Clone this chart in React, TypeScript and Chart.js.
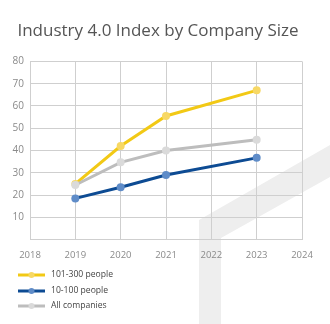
import React, { useEffect, useRef } from "react";
import { Chart, registerables } from "chart.js";

Chart.register(...registerables);

const years = [2019, 2020, 2021, 2023];
const seriesNames = ["101-300 people", "10-100 people", "All companies"];
const mid = [25, 42, 55.5, 67];
const small = [18.5, 23.5, 29, 36.7];
const all = [24.5, 34.7, 40, 44.8];
const yTicks = [10, 20, 30, 40, 50, 60, 70, 80];
const xTicks = [2018, 2019, 2020, 2021, 2022, 2023, 2024];

const lineColors = ["#f2c915", "#0d4b93", "#bdbdbd"];
const pointColors = ["#f7d865", "#5f8cc8", "#dadada"];
const FONT = "'Open Sans', sans-serif";

const watermark = {
  id: "watermark",
  beforeDraw(chart: any) {
    const ctx = chart.ctx;
    ctx.save();
    ctx.fillStyle = "#eeeeee";
    ctx.beginPath();
    ctx.moveTo(199, 324);
    ctx.lineTo(199, 220);
    ctx.lineTo(330, 145);
    ctx.lineTo(330, 177);
    ctx.lineTo(221, 238);
    ctx.lineTo(221, 324);
    ctx.closePath();
    ctx.fill();
    ctx.restore();
  },
};

const bottomLegend = {
  id: "bottomLegend",
  afterDraw(chart: any) {
    const ctx = chart.ctx;
    ctx.save();
    const ys = [275, 291, 306];
    chart.data.datasets.forEach((ds: any, i: number) => {
      const y = ys[i];
      ctx.strokeStyle = ds.borderColor;
      ctx.lineWidth = 3;
      ctx.beginPath();
      ctx.moveTo(18, y);
      ctx.lineTo(45, y);
      ctx.stroke();
      ctx.fillStyle = ds.pointBackgroundColor;
      ctx.beginPath();
      ctx.arc(31.5, y, 3, 0, Math.PI * 2);
      ctx.fill();
      ctx.fillStyle = "#444";
      ctx.font = "8.6px " + FONT;
      ctx.textAlign = "left";
      ctx.textBaseline = "middle";
      ctx.fillText(ds.label, 51, y);
    });
    ctx.restore();
  },
};

export default function App() {
  const ref = useRef<HTMLCanvasElement>(null);
  useEffect(() => {
    if (!ref.current) return;
    const mk = (vals: number[]) => years.map((x, i) => ({ x, y: vals[i] }));
    const data = [mid, small, all];
    const orders = [1, 2, 0];
    const chart = new Chart(ref.current, {
      type: "line",
      data: {
        datasets: data.map((vals, i) => ({
          label: seriesNames[i],
          data: mk(vals),
          borderColor: lineColors[i],
          backgroundColor: lineColors[i],
          pointBackgroundColor: pointColors[i],
          pointBorderWidth: 0,
          pointRadius: 4,
          borderWidth: 3,
          order: orders[i],
        })),
      },
      options: {
        animation: false,
        responsive: false,
        layout: { padding: { left: 0, right: 14, top: 0, bottom: 53 } },
        plugins: {
          legend: { display: false },
          tooltip: { enabled: false },
          title: {
            display: true,
            text: "Industry 4.0 Index by Company Size",
            color: "#555",
            font: { family: FONT, size: 17, weight: "normal" },
            padding: { top: 21, bottom: 20 },
          },
        },
        scales: {
          x: {
            type: "linear",
            min: 2018,
            max: 2024,
            afterBuildTicks: (s: any) => {
              s.ticks = xTicks.map((v) => ({ value: v }));
            },
            afterFit: (s: any) => {
              s.paddingRight = 28;
            },
            ticks: {
              color: "#8a8a8a",
              font: { family: FONT, size: 9.5 },
              padding: 10,
              maxRotation: 0,
              callback: (v: any) => String(v),
            },
            grid: { color: "#cfcfcf", drawTicks: false },
            border: { color: "#cfcfcf" },
          },
          y: {
            min: 0,
            max: 80,
            afterBuildTicks: (s: any) => {
              s.ticks = [0, ...yTicks].map((v) => ({ value: v }));
            },
            afterFit: (s: any) => {
              s.width = 30;
            },
            ticks: {
              color: "#8a8a8a",
              font: { family: FONT, size: 10 },
              padding: 6,
              callback: (v: any) => (v === 0 ? "" : String(v)),
            },
            grid: { color: "#cfcfcf", drawTicks: false },
            border: { color: "#cfcfcf" },
          },
        },
      },
      plugins: [watermark, bottomLegend],
    });
    return () => chart.destroy();
  }, []);
  return (
    <div style={{ position: "fixed", left: 0, top: 0, width: 330, height: 324, background: "#fff" }}>
      <canvas ref={ref} width={330} height={324} style={{ display: "block" }} />
    </div>
  );
}
